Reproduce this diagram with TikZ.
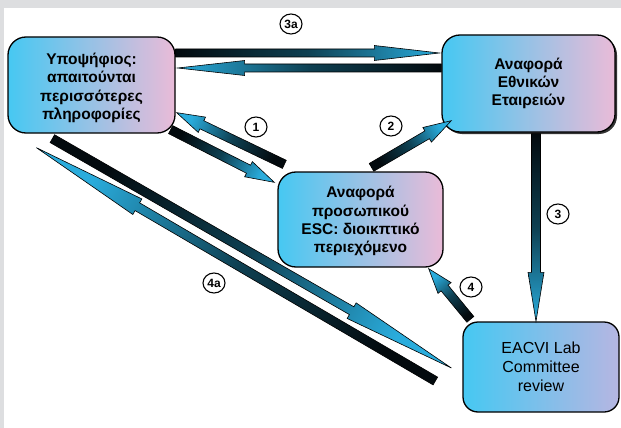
\documentclass[tikz,border=0pt]{standalone}
\usepackage{fontspec}
\newfontfamily\boxfont{Liberation Sans}
\usetikzlibrary{calc,shapes.geometric,shadows}
\definecolor{framegrey}{RGB}{221,222,224}
\definecolor{boxcyan}{RGB}{70,200,242}
\definecolor{boxpink}{RGB}{234,187,216}
\definecolor{boxlav}{RGB}{182,182,226}
\definecolor{arrowtail}{RGB}{3,10,14}
\definecolor{arrowmid}{RGB}{14,64,82}
\definecolor{arrowhead}{RGB}{42,172,220}
\tikzset{
  box/.style={draw=black, line width=1.3pt, rounded corners=18pt,
    left color=boxcyan, right color=boxpink, align=center, inner sep=2pt,
    font=\boxfont\bfseries\fontsize{15.5}{18.3}\selectfont},
  numlabel/.style={ellipse, draw=black, line width=1.1pt, fill=white,
    inner sep=0.5pt, minimum width=22pt, minimum height=20pt,
    font=\boxfont\bfseries\fontsize{12}{13}\selectfont},
  arrowbody/.style={draw=black, line width=0.6pt, top color=arrowtail,
    bottom color=arrowhead, middle color=arrowmid}
}
% extra room above the first line of a box
\newcommand\topgap[1]{\rule{0pt}{#1}}
% block arrow: tail, tip, shaft half width, head half width, head length
\newcommand\blockarrow[5]{%
  \path let \p1=#1, \p2=#2, \n1={atan2(\y2-\y1,\x2-\x1)},
    \n2={veclen(\x2-\x1,\y2-\y1)} in \pgfextra{\xdef\barang{\n1}\xdef\barlen{\n2}};
  \pgfmathsetmacro\barshade{\barang+90}
  \shade[arrowbody, shading angle=\barshade, shift={#1}, rotate=\barang]
    (0,#3) -- ({\barlen-#5},#3) -- ({\barlen-#5},#4) -- (\barlen,0)
    -- ({\barlen-#5},-#4) -- ({\barlen-#5},-#3) -- (0,-#3) -- cycle;
}

\begin{document}
\begin{tikzpicture}[x=1pt,y=-1pt]
  \useasboundingbox (0,0) rectangle (621,428);
  \fill[framegrey] (0,0) rectangle (621,428);
  \fill[white] (3.5,8.5) rectangle (621,428);

  \node[box, minimum width=167pt, minimum height=96pt] (cand) at (91.5,85)
    {\topgap{17pt}Υποψήφιος:\\απαιτούνται\\περισσότερες\\πληροφορίες};
  \node[box, drop shadow={shadow xshift=2pt, shadow yshift=-2pt, fill=black, opacity=0.8},
    minimum width=173pt, minimum height=97pt] (nat) at (528.5,83.5)
    {Αναφορά\\Εθνικών\\Εταιρειών};
  \node[box, minimum width=165pt, minimum height=95pt] (esc) at (360.5,219.5)
    {\topgap{15pt}Αναφορά\\προσωπικού\\ESC: διοικπτικό\\περιεχόμενο};
  \node[box, right color=boxlav, rounded corners=15pt, minimum width=156pt,
    minimum height=90pt, font=\boxfont\fontsize{16}{19}\selectfont] (lab) at (541,367)
    {EACVI Lab\\Committee\\review};

  \blockarrow{([yshift=32pt]cand.east)}{([xshift=-2pt,yshift=30.5pt]nat.west)}{4}{7.5}{65}
  \blockarrow{([yshift=15.5pt]nat.west)}{([xshift=2pt,yshift=17pt]cand.east)}{4}{7.5}{67}
  \blockarrow{([xshift=7pt,yshift=7pt]esc.north west)}{([xshift=1pt,yshift=21pt]cand.south east)}{4.5}{8.5}{28}
  \blockarrow{([xshift=-5pt,yshift=4pt]cand.south east)}{([xshift=-3pt,yshift=-11pt]esc.north west)}{4.5}{8.5}{29}
  \blockarrow{([xshift=11pt,yshift=4pt]esc.north)}{([xshift=10pt,yshift=12pt]nat.south west)}{4.5}{8.5}{28}
  \blockarrow{([xshift=7.5pt,yshift=-1pt]nat.south)}{([xshift=-5pt]lab.north)}{4.5}{8}{49}
  \blockarrow{([xshift=8pt,yshift=2pt]lab.north west)}{([xshift=-15pt,yshift=-1pt]esc.south east)}{4.5}{8.5}{25}
  \blockarrow{([xshift=45pt,yshift=-5pt]cand.south west)}{([xshift=-11pt,yshift=-1pt]lab.west)}{4.5}{9}{115}
  \blockarrow{([xshift=-27pt,yshift=-14pt]lab.west)}{([xshift=29pt,yshift=-14pt]cand.south west)}{4.5}{9}{117}

  \node[numlabel] (l3a) at (291,24) {3a};
  \node[numlabel] (l1) at (256,127) {1};
  \node[numlabel] (l2) at (391,126) {2};
  \node[numlabel] (l3) at (558,214) {3};
  \node[numlabel] (l4) at (471,287) {4};
  \node[numlabel] (l4a) at (214,283) {4a};
\end{tikzpicture}
\end{document}
